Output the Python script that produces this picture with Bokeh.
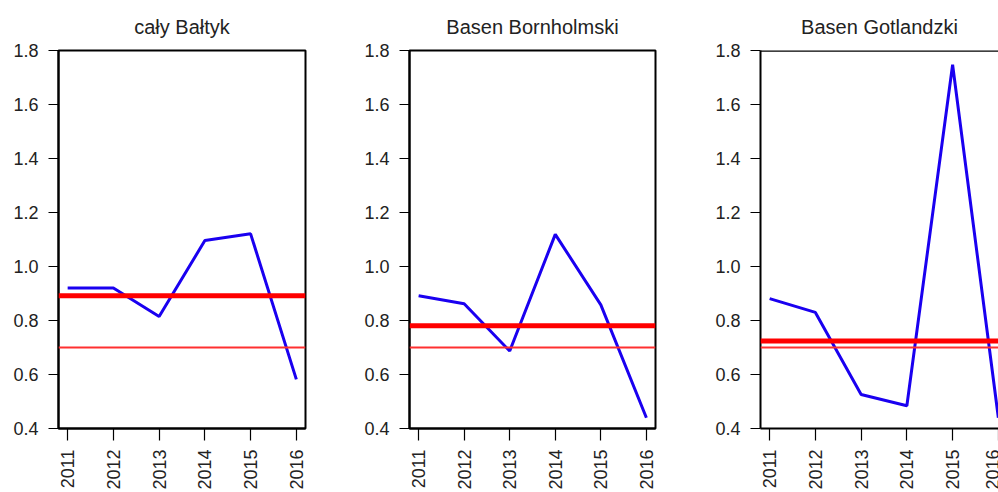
from bokeh.plotting import figure
from bokeh.layouts import row
from bokeh.models import FixedTicker, NumeralTickFormatter, Span, Range1d
from bokeh.embed import file_html
from bokeh.resources import INLINE
import math

years = [2011, 2012, 2013, 2014, 2015, 2016]
titles = ["cały Bałtyk", "Basen Bornholmski", "Basen Gotlandzki"]
vals_baltyk = [0.92, 0.92, 0.815, 1.096, 1.121, 0.582]
vals_bornholm = [0.892, 0.862, 0.687, 1.119, 0.858, 0.44]
vals_gotland = [0.881, 0.830, 0.526, 0.484, 1.747, 0.44]
mean_lines = [0.892, 0.781, 0.724]
threshold = 0.70
y_ticks = [0.4, 0.6, 0.8, 1.0, 1.2, 1.4, 1.6, 1.8]

series = [vals_baltyk, vals_bornholm, vals_gotland]

# canvas geometry: (width, border_left, border_right, x_end)
geo = [
    (340, 58, 35, 2016.2),
    (350, 69, 35, 2016.2),
    (308, 70, 0, 2010.8 + 238 / 45.74),
]

TXT = "#222222"
FONT = "Liberation Sans"

figs = []
for i in range(3):
    w, bl, br, xend = geo[i]
    p = figure(width=w, height=492, output_backend="svg", toolbar_location=None,
               x_range=Range1d(2010.8, xend), y_range=Range1d(0.4, 1.8),
               min_border_left=bl, min_border_right=br, min_border_top=50,
               min_border_bottom=64, title=titles[i])
    p.title.text_font = FONT
    p.title.text_font_size = "20px"
    p.title.text_font_style = "normal"
    p.title.text_color = TXT
    p.title.align = "center"
    p.title.standoff = 26
    p.grid.visible = False
    p.background_fill_color = "white"
    p.border_fill_color = "white"
    if i < 2:
        p.outline_line_color = "black"
        p.outline_line_width = 2
        p.outline_line_alpha = 1
    else:
        p.outline_line_color = None
        top = Span(location=1.8, dimension="width", line_color="black", line_width=2.5)
        p.add_layout(top)

    p.xaxis.ticker = FixedTicker(ticks=years)
    p.yaxis.ticker = FixedTicker(ticks=y_ticks)
    p.yaxis.formatter = NumeralTickFormatter(format="0.0")
    for ax in (p.xaxis, p.yaxis):
        ax.axis_line_color = "black"
        ax.axis_line_width = 2
        ax.major_tick_line_color = "black"
        ax.major_tick_line_width = 1.2
        ax.major_tick_in = 0
        ax.minor_tick_line_color = None
        ax.major_label_text_font = FONT
        ax.major_label_text_font_size = "18px"
        ax.major_label_text_color = TXT
    p.yaxis.major_tick_out = 10
    p.yaxis.major_label_standoff = 10
    p.xaxis.major_tick_out = 12
    p.xaxis.major_label_standoff = 9
    p.xaxis.major_label_orientation = math.pi / 2

    p.add_layout(Span(location=threshold, dimension="width", line_color="#FF3030", line_width=2))
    p.add_layout(Span(location=mean_lines[i], dimension="width", line_color="#FF0000", line_width=5))
    p.line(years, series[i], line_color="#1A00F0", line_width=3)
    figs.append(p)

layout = row(*figs, spacing=0)
open("out.html", "w").write(file_html(layout, INLINE))
